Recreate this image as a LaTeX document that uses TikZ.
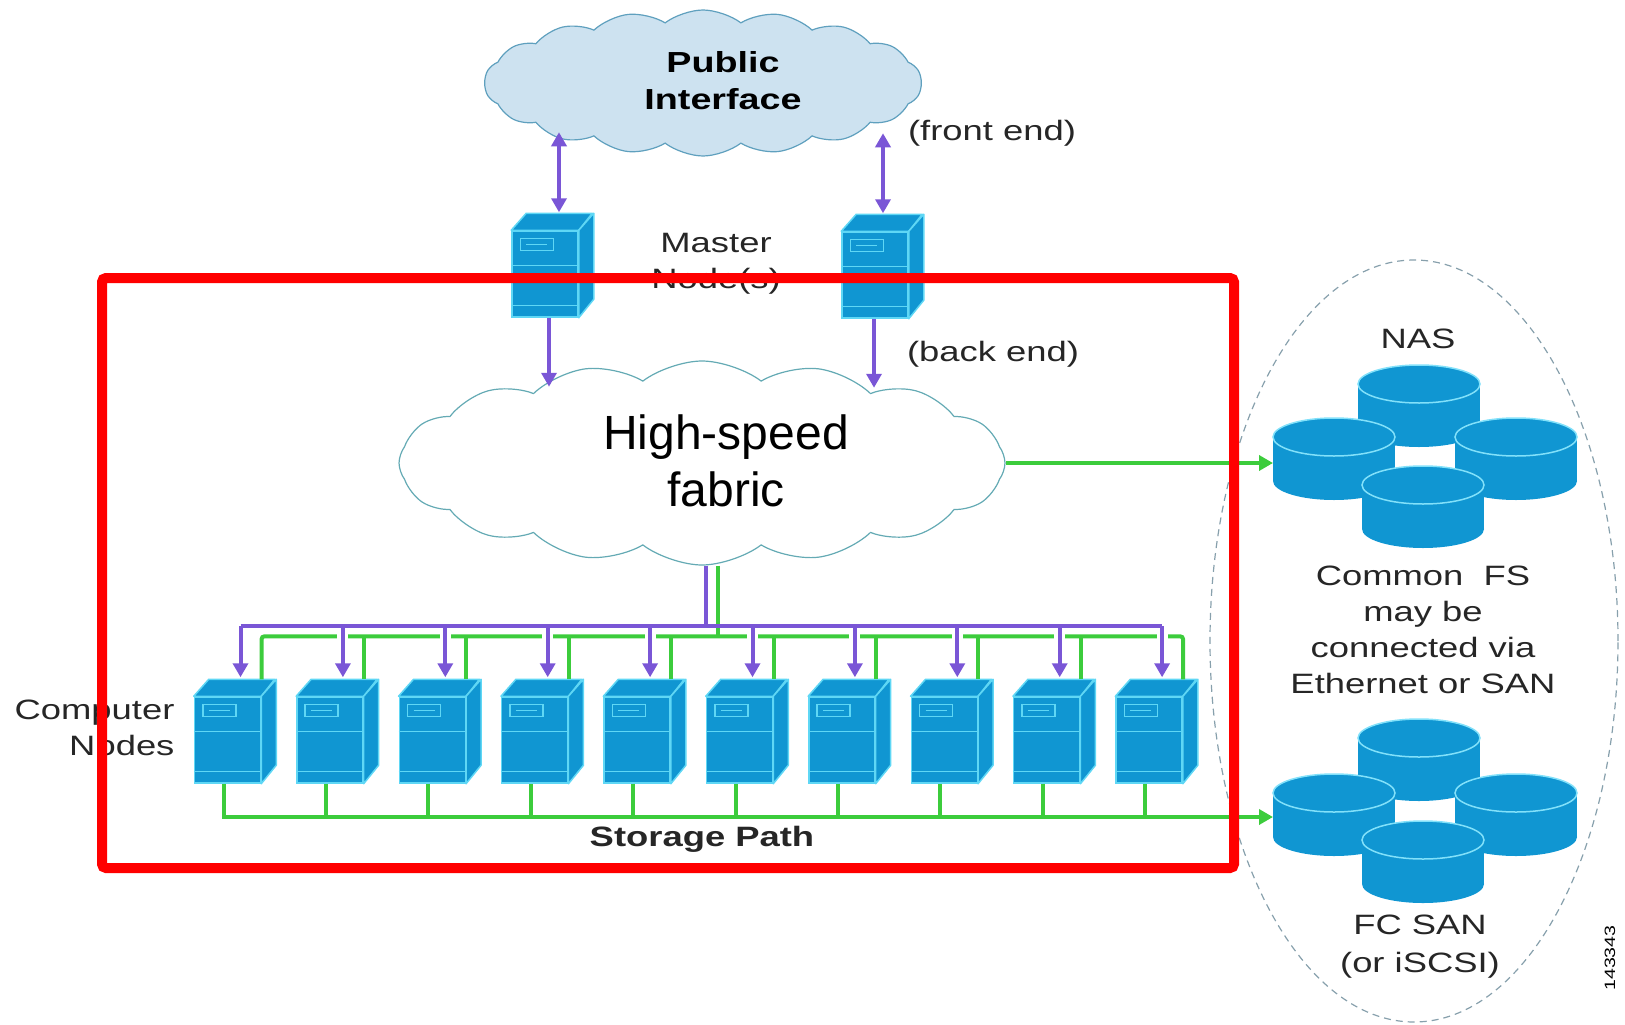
\documentclass[tikz,border=0pt]{standalone}
\usepackage{fontspec}
\setmainfont{Liberation Sans}
\newfontfamily\lblfont[FakeStretch=1.3]{Liberation Sans}
\usepackage{tikz}
\usetikzlibrary{
    shapes.symbols,
    shapes.geometric,
    positioning,
    arrows.meta,
    calc
}

\definecolor{srvblue}{RGB}{16,150,210}
\definecolor{srvline}{RGB}{95,215,245}
\definecolor{diskrim}{RGB}{130,225,250}
\definecolor{cloudfill}{RGB}{205,226,240}
\definecolor{cloudline}{RGB}{95,160,190}
\definecolor{fabline}{RGB}{100,170,180}
\definecolor{busviolet}{RGB}{122,86,214}
\definecolor{busgreen}{RGB}{60,204,60}
\definecolor{dashgrey}{RGB}{135,160,172}

% top and side faces plus front panel of a rack box built on a srvfront node
\newcommand{\srvbody}[1]{%
  \filldraw[srvface] (#1.north west) -- ++(15,-17) -- ++(66,0) -- (#1.north east) -- cycle;
  \filldraw[srvface] (#1.north east) -- ++(15,-17) -- ++(0,86) -- (#1.south east) -- cycle;
  \draw[srvedge] ($(#1.north west)+(9,8)$) rectangle ++(33,12);
  \draw[srvedge] ($(#1.north west)+(15,14)$) -- ++(21,0);
  \draw[srvedge] ($(#1.north west)+(0,35)$) -- ++(66,0);
  \draw[srvedge] ($(#1.north west)+(0,75)$) -- ++(66,0);
}

% one disk of a storage stack, #3 = coordinate on its left side
\newcommand{\disk}[3]{%
  \fill[srvblue] ({#1},{#2+44}) ellipse (61 and 19);
  \fill[srvblue] ({#1-61},{#2}) rectangle ({#1+61},{#2+44});
  \filldraw[diskface] ({#1},{#2}) ellipse (61 and 19);
  \coordinate (#3) at ({#1-61},{#2+24});
}

\begin{document}
\begin{tikzpicture}[
      x=1pt, y=-1pt,
      srvfront/.style={rectangle, draw=srvline, fill=srvblue, line width=1.5pt,
          minimum width=66pt, minimum height=86pt, inner sep=0pt},
      srvface/.style={draw=srvline, fill=srvblue, line width=1.5pt, line join=round},
      srvedge/.style={draw=srvline, line width=1.5pt},
      diskface/.style={draw=diskrim, fill=srvblue, line width=1.5pt},
      pubcloud/.style={cloud, cloud puffs=18, cloud puff arc=75, cloud ignores aspect,
          draw=cloudline, fill=cloudfill, line width=1.2pt,
          minimum width=437pt, minimum height=146pt},
      fabcloud/.style={cloud, cloud puffs=16, cloud puff arc=75, cloud ignores aspect,
          draw=fabline, fill=white, line width=1.2pt,
          minimum width=606pt, minimum height=204pt},
      lbl/.style={font=\lblfont\fontsize{28}{36}\selectfont, text=black!85, align=center},
      biarrow/.style={{Triangle[width=15pt,length=14pt]}-{Triangle[width=15pt,length=14pt]},
          line width=4pt, busviolet},
      varrow/.style={-{Triangle[width=15pt,length=14pt]}, line width=4pt, busviolet},
      cutarrow/.style={varrow, preaction={draw=white, line width=11pt, arrows=-}},
      vline/.style={line width=4pt, busviolet},
      gline/.style={line width=4pt, busgreen},
      garrow/.style={-{Triangle[width=15pt,length=14pt]}, line width=4pt, busgreen}
    ]
    \useasboundingbox (0,0) rectangle (1625,1025);

    % clouds
    \node[pubcloud] (pub) at (703,83) {};
    \node[align=center, font=\lblfont\bfseries\fontsize{29}{37}\selectfont]
        (publbl) at (723,81) {Public\\Interface};
    \node[fabcloud] (fab) at (702,463) {};
    \node[align=center, font=\fontsize{48}{57}\selectfont]
        (fablbl) at (726,461) {High-speed\\fabric};

    % master nodes
    \node[srvfront] (m1) at (545,274) {};
    \srvbody{m1}
    \node[srvfront] (m2) at (875,275) {};
    \srvbody{m2}
    \node[lbl] (mlbl) at (716,264) {Master\\Node(s)};
    \node[lbl] (fe) at (992,133) {(front end)};
    \node[lbl] (be) at (993,354) {(back end)};

    \draw[biarrow] ($(m1.north)+(14,-18)$) -- ++(0,-80);
    \draw[biarrow] ($(m2.north)+(8,-18)$) -- ++(0,-80);
    \draw[varrow] ($(m1.south)+(4,0)$) -- ++(0,69);
    \draw[varrow] ($(m2.south)+(-1,0)$) -- ++(0,69);

    % compute nodes
    \foreach \i in {0,...,9} {
      \node[srvfront] (c\i) at ({227.5+102.4*\i},740) {};
      \srvbody{c\i}
    }
    \node[lbl, align=right, anchor=east] (clbl) at (178,728) {Computer\\Nodes};

    \coordinate (gbus) at ($(c0.north)+(34,-60)$);
    \coordinate (pbus) at ($(c0.north)+(13,-70)$);

    % green fabric bus
    \draw[gline] ($(fab.south)+(16,0)$) coordinate (gdrop) -- (gdrop |- gbus);
    \draw[gline, rounded corners=3pt] ($(c0.north)+(34,-17)$) |- ($(c9.north)+(34,-60)$)
        -- ($(c9.north)+(34,-17)$);
    \foreach \i in {1,...,8}
      \draw[gline] ($(c\i.north)+(34,-60)$) -- ($(c\i.north)+(34,-17)$);

    % violet fabric bus
    \foreach \i in {0,...,9}
      \draw[cutarrow] ($(c\i.north)+(13,-70)$) -- ($(c\i.north)+(13,-19)$);
    \draw[vline] ($(fab.south)+(4,0)$) coordinate (pdrop) -- (pdrop |- pbus);
    \draw[vline] (pbus) -- ($(c9.north)+(13,-70)$);

    % storage
    \node[draw=dashgrey, dashed, dash pattern=on 7pt off 5pt, line width=1.2pt, ellipse,
        minimum width=408pt, minimum height=762pt] (stor) at (1414,641) {};

    \disk{1419}{384}{nasN}
    \disk{1334}{437}{nasW}
    \disk{1516}{437}{nasE}
    \disk{1423}{485}{nasS}
    \disk{1419}{738}{sanN}
    \disk{1334}{793}{sanW}
    \disk{1516}{793}{sanE}
    \disk{1423}{840}{sanS}

    \node[lbl] (nas) at (1418,339) {NAS};
    \node[lbl] (fs) at (1423,630) {Common\ \ FS\\may be\\connected via\\Ethernet or SAN};
    \node[lbl, font=\lblfont\fontsize{28}{38}\selectfont] (san) at (1420,947) {FC SAN\\(or iSCSI)};
    \node[font=\lblfont\fontsize{15}{15}\selectfont, rotate=90] (tag) at (1610,958) {143343};

    \draw[garrow] (fab.east) -- (fab.east -| nasW);
    \draw[garrow] ($(c0.south)+(-4,0)$) |- (sanW);
    \foreach \i in {1,...,9}
      \draw[gline] ($(c\i.south)+(-4,0)$) -- ++(0,34);
    \node[lbl, font=\lblfont\bfseries\fontsize{28}{36}\selectfont] (spath) at (702,839) {Storage Path};

    % highlight frame
    \draw[red, line width=10pt, rounded corners=4pt] (102,278) rectangle (1234,868);
  \end{tikzpicture}
\end{document}
